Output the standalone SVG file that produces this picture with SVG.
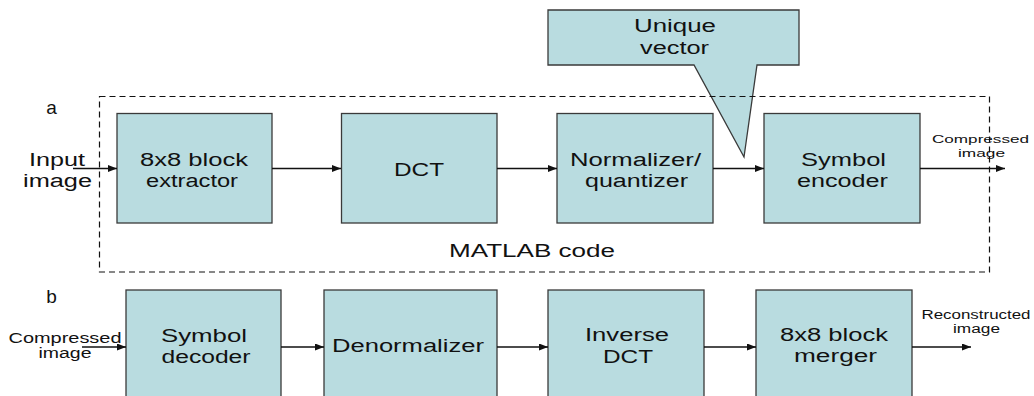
<svg xmlns="http://www.w3.org/2000/svg" width="1034" height="396" viewBox="0 0 1034 396">
<style>
.box{fill:#b9dce0;stroke:#3a3a3a;stroke-width:1.3}
.t{font-family:"Liberation Sans",Arial,sans-serif;font-size:18px;fill:#111;text-anchor:middle}
.s{font-size:11.5px}
.m{font-size:14px}
.r{font-size:12px}
.c{stroke:#111;stroke-width:1.6;fill:none;marker-end:url(#ah)}
.dash{fill:none;stroke:#111;stroke-width:1.2;stroke-dasharray:6 4}
</style>
<defs>
<marker id="ah" markerUnits="userSpaceOnUse" markerWidth="9" markerHeight="7" refX="9" refY="3.5" orient="auto">
<path d="M0,0 L9,3.5 L0,7 z" fill="#111"/>
</marker>
</defs>
<rect width="1034" height="396" fill="#fff"/>

<g id="callout">
<path class="box" d="M548,10 H799 V65 H757 L744,157 L694,65 H548 Z"/>
<text class="t" x="675" y="32" textLength="82" lengthAdjust="spacingAndGlyphs">Unique</text>
<text class="t" x="674.5" y="54" textLength="69" lengthAdjust="spacingAndGlyphs">vector</text>
</g>

<g id="matlab">
<rect class="dash" x="99.5" y="96.5" width="890" height="175.5"/>
<text class="t" x="532" y="257" textLength="166" lengthAdjust="spacingAndGlyphs">MATLAB code</text>
</g>

<g id="labels">
<text class="t" x="51.5" y="114" style="font-size:19px">a</text>
<text class="t" x="51.5" y="303" style="font-size:19px">b</text>
<text class="t" x="57" y="166" textLength="56" lengthAdjust="spacingAndGlyphs">Input</text>
<text class="t" x="57.5" y="187" textLength="69" lengthAdjust="spacingAndGlyphs">image</text>
<text class="t s" x="980.5" y="143" textLength="97" lengthAdjust="spacingAndGlyphs">Compressed</text>
<text class="t s" x="981.5" y="157" textLength="47" lengthAdjust="spacingAndGlyphs">image</text>
<text class="t m" x="65" y="343" textLength="113" lengthAdjust="spacingAndGlyphs">Compressed</text>
<text class="t m" x="65" y="358" textLength="53" lengthAdjust="spacingAndGlyphs">image</text>
<text class="t r" x="976" y="319" textLength="109" lengthAdjust="spacingAndGlyphs">Reconstructed</text>
<text class="t r" x="976.5" y="333" textLength="47" lengthAdjust="spacingAndGlyphs">image</text>
</g>

<g id="extractor">
<rect class="box" x="117" y="113.5" width="155" height="109.5"/>
<text class="t" x="194" y="166" textLength="108" lengthAdjust="spacingAndGlyphs">8x8 block</text>
<text class="t" x="192" y="187" textLength="92" lengthAdjust="spacingAndGlyphs">extractor</text>
</g>
<g id="dct">
<rect class="box" x="341.5" y="113.5" width="155.5" height="109.5"/>
<text class="t" x="419" y="176" textLength="50" lengthAdjust="spacingAndGlyphs">DCT</text>
</g>
<g id="normalizer">
<rect class="box" x="557" y="113.5" width="156" height="109.5"/>
<text class="t" x="635.5" y="166" textLength="131" lengthAdjust="spacingAndGlyphs">Normalizer/</text>
<text class="t" x="636.5" y="187" textLength="103" lengthAdjust="spacingAndGlyphs">quantizer</text>
</g>
<g id="encoder">
<rect class="box" x="764" y="113.5" width="156" height="109.5"/>
<text class="t" x="843.5" y="166" textLength="85" lengthAdjust="spacingAndGlyphs">Symbol</text>
<text class="t" x="842.5" y="187" textLength="91" lengthAdjust="spacingAndGlyphs">encoder</text>
</g>

<g id="decoder">
<rect class="box" x="126" y="290" width="155" height="115"/>
<text class="t" x="204" y="342" textLength="86" lengthAdjust="spacingAndGlyphs">Symbol</text>
<text class="t" x="206" y="363" textLength="89" lengthAdjust="spacingAndGlyphs">decoder</text>
</g>
<g id="denormalizer">
<rect class="box" x="324" y="290" width="173" height="115"/>
<text class="t" x="408" y="352" textLength="152" lengthAdjust="spacingAndGlyphs">Denormalizer</text>
</g>
<g id="idct">
<rect class="box" x="548" y="290" width="156" height="115"/>
<text class="t" x="627" y="341" textLength="84" lengthAdjust="spacingAndGlyphs">Inverse</text>
<text class="t" x="628" y="363" textLength="50" lengthAdjust="spacingAndGlyphs">DCT</text>
</g>
<g id="merger">
<rect class="box" x="756" y="290" width="156" height="115"/>
<text class="t" x="834" y="341" textLength="108" lengthAdjust="spacingAndGlyphs">8x8 block</text>
<text class="t" x="835.5" y="362" textLength="83" lengthAdjust="spacingAndGlyphs">merger</text>
</g>

<g id="connectors">
<line class="c" x1="73" y1="168.5" x2="117" y2="168.5"/>
<line class="c" x1="272" y1="168.5" x2="341" y2="168.5"/>
<line class="c" x1="497" y1="168.5" x2="557" y2="168.5"/>
<line class="c" x1="713" y1="168.5" x2="764" y2="168.5"/>
<line class="c" x1="920" y1="168.5" x2="1005" y2="168.5"/>
<line class="c" x1="82" y1="347" x2="126" y2="347"/>
<line class="c" x1="281" y1="347" x2="324" y2="347"/>
<line class="c" x1="497" y1="347" x2="548" y2="347"/>
<line class="c" x1="704" y1="347" x2="756" y2="347"/>
<line class="c" x1="912" y1="347" x2="971" y2="347"/>
</g>
</svg>
